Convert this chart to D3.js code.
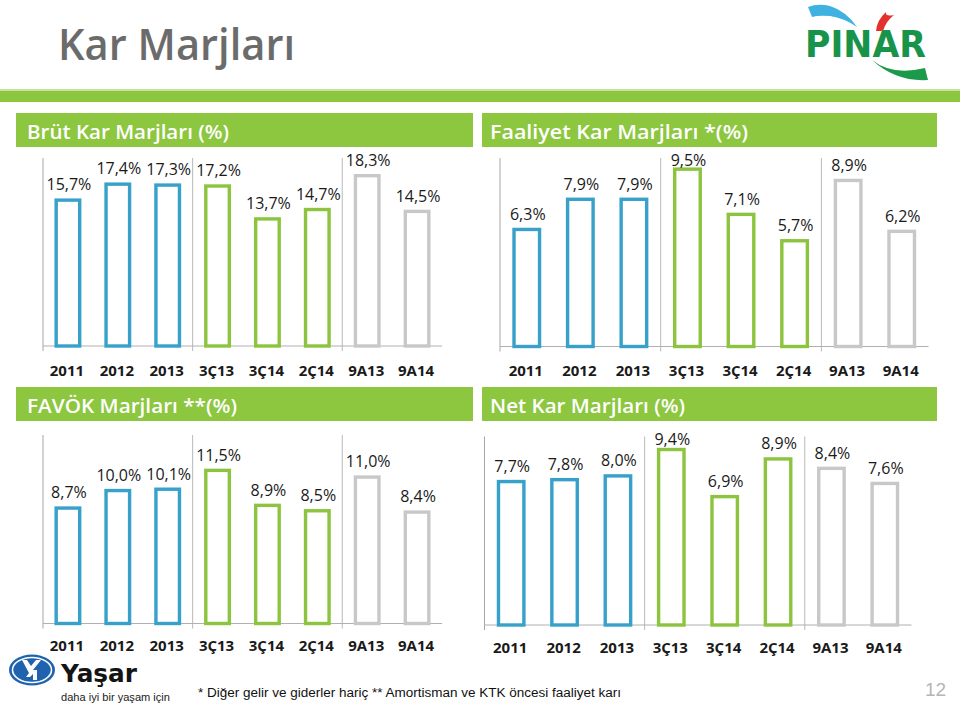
<!DOCTYPE html>
<html>
<head>
<meta charset="utf-8">
<script src="https://cdn.jsdelivr.net/npm/d3@7"></script>
<style>
  html, body { margin: 0; padding: 0; background: #fff; }
  svg { display: block; }
</style>
</head>
<body>
<svg id="chart" width="960" height="707"></svg>
<script>
// ---------- DATA ----------
const categories = ["2011", "2012", "2013", "3Ç13", "3Ç14", "2Ç14", "9A13", "9A14"];
const groups = ["yil", "yil", "yil", "ceyrek", "ceyrek", "ceyrek", "donem", "donem"];
const brutKar = [15.7, 17.4, 17.3, 17.2, 13.7, 14.7, 18.3, 14.5];
const faaliyetKar = [6.3, 7.9, 7.9, 9.5, 7.1, 5.7, 8.9, 6.2];
const favok = [8.7, 10.0, 10.1, 11.5, 8.9, 8.5, 11.0, 8.4];
const netKar = [7.7, 7.8, 8.0, 9.4, 6.9, 8.9, 8.4, 7.6];
const panelTitles = ["Brüt Kar Marjları (%)", "Faaliyet Kar Marjları *(%)", "FAVÖK Marjları **(%)", "Net Kar Marjları (%)"];
const axisMax = [20, 10, 14, 10];

// ---------- STYLE / LAYOUT ----------
const groupColor = { yil: "#37a1c9", ceyrek: "#8cc43f", donem: "#c8c8c8" };
const headerGreen = "#8dc63f";
const FONT = "'Open Sans', 'DejaVu Sans', sans-serif";

const layout = [
  { hx: 16,  hy: 113, hw: 457, hh: 34, tx: 27,  tw: 202, x0: 43,    x1: 442,   yTop: 158,   yBase: 346,   tickY: 376 },
  { hx: 482, hy: 113, hw: 455, hh: 34, tx: 490, tw: 258, x0: 500,   x1: 928.5, yTop: 158,   yBase: 346.5, tickY: 376 },
  { hx: 16,  hy: 387, hw: 457, hh: 34, tx: 27,  tw: 210, x0: 43,    x1: 442,   yTop: 435,   yBase: 623.5, tickY: 651 },
  { hx: 482, hy: 387, hw: 455, hh: 34, tx: 490, tw: 195, x0: 484.5, x1: 911.5, yTop: 436.5, yBase: 625,   tickY: 653 }
];
const seriesList = [brutKar, faaliyetKar, favok, netKar];

const svg = d3.select("#chart");
const fmt = v => d3.format(".1f")(v).replace(".", ",") + "%";

// ---------- PAGE HEADER ----------
svg.append("text")
  .attr("x", 58).attr("y", 60)
  .attr("font-family", FONT).attr("font-weight", 600)
  .attr("font-size", 44).attr("fill", "#6b6b6b")
  .attr("textLength", 237).attr("lengthAdjust", "spacingAndGlyphs")
  .text("Kar Marjları");

svg.append("rect").attr("x", 0).attr("y", 89).attr("width", 960).attr("height", 2).attr("fill", "#c5e29c");
svg.append("rect").attr("x", 0).attr("y", 91).attr("width", 960).attr("height", 11).attr("fill", headerGreen);

// PINAR logo
const logo = svg.append("g");
logo.append("path")
  .attr("d", "M808,7 Q818,3 830,6 Q846,11 857,27 Q844,18 830,16 Q818,15 812,17 Z")
  .attr("fill", "#3fb2e2");
logo.append("path")
  .attr("d", "M876,31 Q877,20 886,12 Q885,17 894,15 Q886,21 883,31 Z")
  .attr("fill", "#e2322b");
logo.append("path")
  .attr("d", "M872,60 Q892,76 925,68 L928,80 Q896,82 872,60 Z")
  .attr("fill", "#1b9a4b");
logo.append("text")
  .attr("x", 805).attr("y", 57)
  .attr("font-family", "'DejaVu Sans', sans-serif").attr("font-weight", 700)
  .attr("font-size", 38).attr("fill", "#17934a")
  .attr("textLength", 121).attr("lengthAdjust", "spacingAndGlyphs")
  .text("PINAR");

// ---------- PANELS ----------
layout.forEach((L, i) => {
  const values = seriesList[i];
  const g = svg.append("g");

  // header band
  g.append("rect").attr("x", L.hx).attr("y", L.hy).attr("width", L.hw).attr("height", L.hh).attr("fill", headerGreen);
  g.append("text")
    .attr("x", L.tx).attr("y", L.hy + 26)
    .attr("font-family", FONT).attr("font-weight", 600).attr("font-size", 20)
    .attr("fill", "#ffffff")
    .attr("textLength", L.tw).attr("lengthAdjust", "spacingAndGlyphs")
    .text(panelTitles[i]);

  const x = d3.scaleBand().domain(categories).range([L.x0, L.x1]).paddingInner(0).paddingOuter(0);
  const y = d3.scaleLinear().domain([0, axisMax[i]]).range([L.yBase, L.yTop]);
  const bw = x.bandwidth();
  const sw = 3.4;
  const outer = bw * 0.54;

  // separators + left axis
  const seps = [categories[0], categories[3], categories[6]];
  g.selectAll("line.sep").data(seps).join("line")
    .attr("x1", d => x(d)).attr("x2", d => x(d))
    .attr("y1", y(axisMax[i])).attr("y2", L.yBase + 5)
    .attr("stroke", (d, k) => k === 0 ? "#a6a6a6" : "#b9b9b9").attr("stroke-width", 1);
  // baseline
  g.append("line")
    .attr("x1", L.x0).attr("x2", L.x1)
    .attr("y1", L.yBase).attr("y2", L.yBase)
    .attr("stroke", "#b0b0b0").attr("stroke-width", 1);

  // bars (outlined)
  g.selectAll("rect.bar").data(values).join("rect")
    .attr("x", (d, k) => x(categories[k]) + (bw - outer) / 2 + sw / 2)
    .attr("y", d => y(d) + sw / 2)
    .attr("width", outer - sw)
    .attr("height", d => L.yBase - y(d) - sw / 2)
    .attr("fill", "#ffffff")
    .attr("stroke", (d, k) => groupColor[groups[k]])
    .attr("stroke-width", sw);

  // value labels
  g.selectAll("text.val").data(values).join("text")
    .attr("x", (d, k) => x(categories[k]) + bw / 2 + 1)
    .attr("y", d => Math.max(y(d) - 14, y(axisMax[i]) + 2) + 6)
    .attr("text-anchor", "middle")
    .attr("font-family", FONT).attr("font-size", 16)
    .attr("fill", "#1a1a1a")
    .text(d => fmt(d));

  // category labels
  g.selectAll("text.cat").data(categories).join("text")
    .attr("x", d => x(d) + bw / 2 - 1)
    .attr("y", L.tickY)
    .attr("text-anchor", "middle")
    .attr("font-family", FONT).attr("font-weight", 700).attr("font-size", 15)
    .attr("fill", "#1a1a1a")
    .text(d => d);
});

// ---------- FOOTER ----------
const yl = svg.append("g");
yl.append("ellipse").attr("cx", 32).attr("cy", 670).attr("rx", 23).attr("ry", 15.5).attr("fill", "#1f63ae");
yl.append("ellipse").attr("cx", 32).attr("cy", 670).attr("rx", 19.5).attr("ry", 12.5)
  .attr("fill", "none").attr("stroke", "#ffffff").attr("stroke-width", 1.6);
yl.append("path")
  .attr("d", "M22,660 L27,660 L31,666 L36,660 L41,660 L33,670 L37,670 L37,680 L33,680 L33,674 L30,677 L26,677 L29,673 Z")
  .attr("fill", "#ffffff");
yl.append("text")
  .attr("x", 61).attr("y", 682)
  .attr("font-family", "'DejaVu Sans', sans-serif").attr("font-weight", 700)
  .attr("font-size", 25).attr("fill", "#141414")
  .attr("textLength", 76).attr("lengthAdjust", "spacingAndGlyphs")
  .text("Yaşar");
yl.append("text")
  .attr("x", 61).attr("y", 701)
  .attr("font-family", "'Liberation Sans', Arial, sans-serif")
  .attr("font-size", 11).attr("fill", "#222")
  .attr("textLength", 109).attr("lengthAdjust", "spacingAndGlyphs")
  .text("daha iyi bir yaşam için");

svg.append("text")
  .attr("x", 198).attr("y", 697)
  .attr("font-family", "'Liberation Sans', Arial, sans-serif")
  .attr("font-size", 12).attr("fill", "#111")
  .attr("textLength", 423).attr("lengthAdjust", "spacingAndGlyphs")
  .text("* Diğer gelir ve giderler hariç ** Amortisman ve KTK öncesi faaliyet karı");

svg.append("text")
  .attr("x", 925).attr("y", 696)
  .attr("font-family", "'Liberation Sans', Arial, sans-serif")
  .attr("font-size", 19).attr("fill", "#b5b5b5")
  .text("12");
</script>
</body>
</html>
